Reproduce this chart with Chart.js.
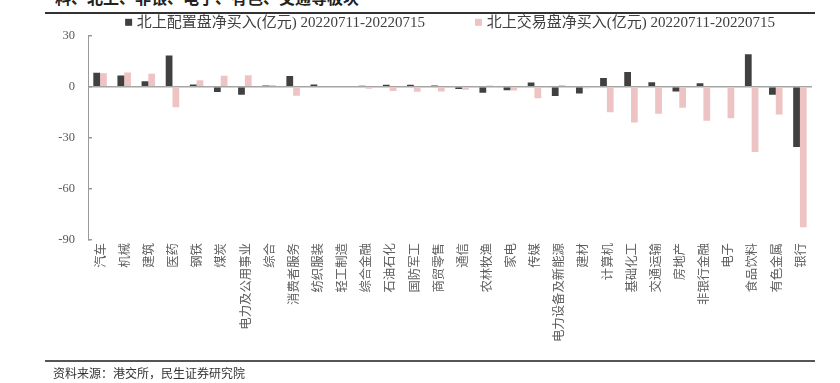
<!DOCTYPE html>
<html>
<head>
<meta charset="utf-8">
<script src="https://cdn.jsdelivr.net/npm/chart.js@4/dist/chart.umd.min.js"></script>
<style>
  html, body { margin: 0; padding: 0; background: #fff; }
  #wrap { position: relative; width: 840px; height: 383px; overflow: hidden; }
  #c { position: absolute; left: 0; top: 0; }
  #title { position: absolute; left: 55px; top: -11px; font: bold 16px 'Noto Sans CJK SC', sans-serif; line-height: 16px; color: #222; white-space: nowrap; }
  #tline { position: absolute; left: 45px; top: 12px; width: 770px; height: 2px; background: #333; }
  #bline { position: absolute; left: 45px; top: 360px; width: 770px; height: 1.5px; background: #555; }
  #src { position: absolute; left: 53px; top: 364px; font: 12px 'Noto Sans CJK SC', sans-serif; line-height: 18px; color: #333; white-space: nowrap; }
</style>
</head>
<body>
<div id="wrap">
  <div id="title">料、北上、非银、电子、有色、交通等板块</div>
  <div id="tline"></div>
  <canvas id="c" width="840" height="383"></canvas>
  <div id="bline"></div>
  <div id="src">资料来源：港交所，民生证券研究院</div>
</div>
<script>
const categories = ['汽车','机械','建筑','医药','钢铁','煤炭','电力及公用事业','综合','消费者服务','纺织服装','轻工制造','综合金融','石油石化','国防军工','商贸零售','通信','农林牧渔','家电','传媒','电力设备及新能源','建材','计算机','基础化工','交通运输','房地产','非银行金融','电子','食品饮料','有色金属','银行'];
const allocNet = [8.1, 6.6, 3.1, 18.3, 1.3, -3.1, -4.7, 0.7, 6.2, 1.2, 0.4, 0.5, 1.1, 1.1, 0.6, -1.4, -3.6, -2.2, 2.4, -5.5, -4.1, 5.1, 8.6, 2.5, -2.9, 2.0, 0.4, 19.0, -4.7, -35.5];
const tradeNet = [7.9, 8.3, 7.6, -12.1, 3.8, 6.4, 6.7, 1.0, -5.4, -0.4, -0.5, -1.3, -2.5, -3.0, -2.8, -1.9, 0.6, -2.3, -6.8, 0.9, -0.9, -15.1, -21.0, -15.9, -12.4, -20.0, -18.6, -38.4, -16.3, -82.5];
const seriesNames = ['北上配置盘净买入(亿元) 20220711-20220715', '北上交易盘净买入(亿元) 20220711-20220715'];
const yTicks = [-90, -60, -30, 0, 30];

const serif = "'Liberation Serif', 'Noto Sans CJK SC', serif";

// Legend drawn from the datasets, centred over the plot area
const topLegend = {
  id: 'topLegend',
  afterDraw(chart) {
    const ctx = chart.ctx;
    const area = chart.chartArea;
    const box = 7, gapText = 4.7, gapItem = 50, cy = 22.3;
    ctx.save();
    ctx.font = '15px ' + serif;
    ctx.textBaseline = 'middle';
    ctx.textAlign = 'left';
    const items = chart.data.datasets.map(ds => ({ ds, w: box + gapText + ctx.measureText(ds.label).width }));
    const total = items.reduce((s, it) => s + it.w, 0) + gapItem * (items.length - 1);
    let x = (area.left + area.right) / 2 - total / 2;
    items.forEach(it => {
      ctx.fillStyle = it.ds.backgroundColor;
      ctx.fillRect(x, cy - box / 2, box, box);
      ctx.fillStyle = '#404040';
      ctx.fillText(it.ds.label, x + box + gapText, cy + 0.5);
      x += it.w + gapItem;
    });
    ctx.restore();
  }
};

new Chart(document.getElementById('c'), {
  type: 'bar',
  data: {
    labels: categories,
    datasets: [
      { label: seriesNames[0], data: allocNet, backgroundColor: '#404040', borderWidth: 0, categoryPercentage: 0.56, barPercentage: 1.0 },
      { label: seriesNames[1], data: tradeNet, backgroundColor: '#eec3c3', borderWidth: 0, categoryPercentage: 0.56, barPercentage: 1.0 }
    ]
  },
  plugins: [topLegend],
  options: {
    responsive: false,
    animation: false,
    devicePixelRatio: 1,
    layout: { padding: { left: 0, right: 28, top: 35.5, bottom: 33 } },
    plugins: {
      tooltip: { enabled: false },
      legend: { display: false }
    },
    scales: {
      x: {
        grid: { display: false, drawTicks: false },
        border: { display: false },
        ticks: {
          autoSkip: false,
          minRotation: 90,
          maxRotation: 90,
          padding: 3,
          color: '#5f5f5f',
          font: { family: "'Noto Sans CJK SC', sans-serif", size: 12.4 }
        },
        afterFit: (s) => { s.height = 110; }
      },
      y: {
        min: -90,
        max: 30,
        afterBuildTicks: (s) => { s.ticks = yTicks.map(v => ({ value: v })); },
        grid: {
          drawTicks: true,
          tickLength: -4,
          tickColor: '#999',
          color: (ctx) => (ctx.tick && ctx.tick.value === 0) ? '#a6a6a6' : 'rgba(0,0,0,0)',
          lineWidth: 1.5
        },
        border: { display: true, color: '#999', width: 1 },
        ticks: {
          padding: 17,
          color: '#595959',
          font: { family: serif, size: 12.5 }
        },
        afterFit: (s) => { s.width = 88; }
      }
    }
  }
});
</script>
</body>
</html>
